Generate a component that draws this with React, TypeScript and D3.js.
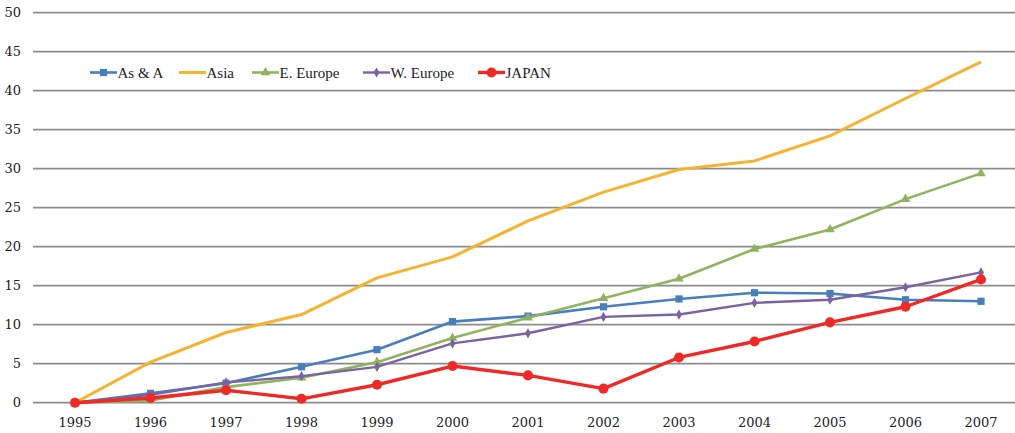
import React, { useEffect, useRef } from "react";
import * as d3 from "d3";

const years = ["1995","1996","1997","1998","1999","2000","2001","2002","2003","2004","2005","2006","2007"];
const asAndA = [0, 1.2, 2.5, 4.6, 6.8, 10.4, 11.1, 12.3, 13.3, 14.1, 14.0, 13.2, 13.0];
const asia = [0, 5.2, 9.0, 11.3, 16.0, 18.7, 23.3, 27.0, 29.9, 31.0, 34.2, 39.0, 43.7];
const eEurope = [0, 0.3, 2.0, 3.2, 5.2, 8.3, 10.9, 13.4, 15.9, 19.7, 22.2, 26.1, 29.4];
const wEurope = [0, 1.0, 2.6, 3.4, 4.6, 7.6, 8.9, 11.0, 11.3, 12.8, 13.2, 14.8, 16.7];
const japan = [0, 0.6, 1.6, 0.5, 2.3, 4.7, 3.5, 1.8, 5.8, 7.85, 10.3, 12.3, 15.8];
const yTicks = [0, 5, 10, 15, 20, 25, 30, 35, 40, 45, 50];

type Marker = "square" | "none" | "triangle" | "diamond" | "circle";
const seriesNames = ["As & A", "Asia", "E. Europe", "W. Europe", "JAPAN"];
const seriesValues = [asAndA, asia, eEurope, wEurope, japan];
const seriesColors = ["#4a7ebb", "#f6b332", "#8fb35e", "#7b62a0", "#ee2a27"];
const seriesMarkers: Marker[] = ["square", "none", "triangle", "diamond", "circle"];
const seriesWidths = [2.6, 3, 2.6, 2.4, 3.4];

const W = 1015;
const H = 433;
const SERIF = "Liberation Serif, DejaVu Serif, Times New Roman, Times, serif";
const NUM_SERIF = "DejaVu Serif, Liberation Serif, serif";
// left edge of each legend entry's sample line
const legendSlots = [90, 179, 252, 363, 478];

function markerSymbol(m: Marker) {
  switch (m) {
    case "square": return d3.symbol(d3.symbolSquare, 52)();
    case "triangle": return d3.symbol(d3.symbolTriangle, 40)();
    case "diamond": return d3.symbol(d3.symbolDiamond, 30)();
    case "circle": return d3.symbol(d3.symbolCircle, 80)();
    default: return null;
  }
}

export default function App() {
  const ref = useRef<SVGSVGElement | null>(null);

  useEffect(() => {
    const svg = d3.select(ref.current);
    svg.selectAll("*").remove();

    const x = d3.scalePoint<string>().domain(years).range([75, 981]);
    const y = d3.scaleLinear().domain([0, 50]).range([402.7, 12.7]);

    // horizontal gridlines
    svg.append("g")
      .selectAll("line")
      .data(yTicks)
      .join("line")
      .attr("x1", 33)
      .attr("x2", W)
      .attr("y1", (d) => y(d))
      .attr("y2", (d) => y(d))
      .attr("stroke", "#8c8c8c")
      .attr("stroke-width", 1.8);

    // y labels
    svg.append("g")
      .selectAll("text")
      .data(yTicks)
      .join("text")
      .attr("x", 21)
      .attr("y", (d) => y(d) + 4.5)
      .attr("text-anchor", "end")
      .style("font-family", NUM_SERIF)
      .style("font-size", "13px")
      .attr("fill", "#222")
      .text((d) => String(d));

    // x labels
    svg.append("g")
      .selectAll("text")
      .data(years)
      .join("text")
      .attr("x", (d) => x(d) as number)
      .attr("y", 427)
      .attr("text-anchor", "middle")
      .style("font-family", NUM_SERIF)
      .style("font-size", "13px")
      .attr("fill", "#222")
      .text((d) => d);

    const line = d3.line<number>()
      .x((_, i) => x(years[i]) as number)
      .y((d) => y(d));

    seriesValues.forEach((vals, s) => {
      const g = svg.append("g");
      g.append("path")
        .attr("d", line(vals))
        .attr("fill", "none")
        .attr("stroke", seriesColors[s])
        .attr("stroke-width", seriesWidths[s])
        .attr("stroke-linejoin", "round");
      const sym = markerSymbol(seriesMarkers[s]);
      if (sym) {
        g.selectAll("path.m")
          .data(vals)
          .join("path")
          .attr("class", "m")
          .attr("d", sym)
          .attr("transform", (d, i) => `translate(${x(years[i])},${y(d)})`)
          .attr("fill", seriesColors[s]);
      }
    });

    // legend
    const legend = svg.append("g").attr("transform", "translate(0,72.5)");
    seriesNames.forEach((name, s) => {
      const item = legend.append("g").attr("transform", `translate(${legendSlots[s]},0)`);
      item.append("line")
        .attr("x1", 0).attr("x2", 27)
        .attr("y1", 0).attr("y2", 0)
        .attr("stroke", seriesColors[s])
        .attr("stroke-width", seriesWidths[s]);
      const sym = markerSymbol(seriesMarkers[s]);
      if (sym) {
        item.append("path")
          .attr("d", sym)
          .attr("transform", "translate(13.5,0)")
          .attr("fill", seriesColors[s]);
      }
      item.append("text")
        .attr("x", 27.5)
        .attr("y", 5.5)
        .style("font-family", SERIF)
        .style("font-size", "15px")
        .attr("fill", "#222")
        .text(name);
    });
  }, []);

  return (
    <svg
      ref={ref}
      width={W}
      height={H}
      style={{ position: "absolute", left: 0, top: 0, background: "#fff" }}
    />
  );
}
